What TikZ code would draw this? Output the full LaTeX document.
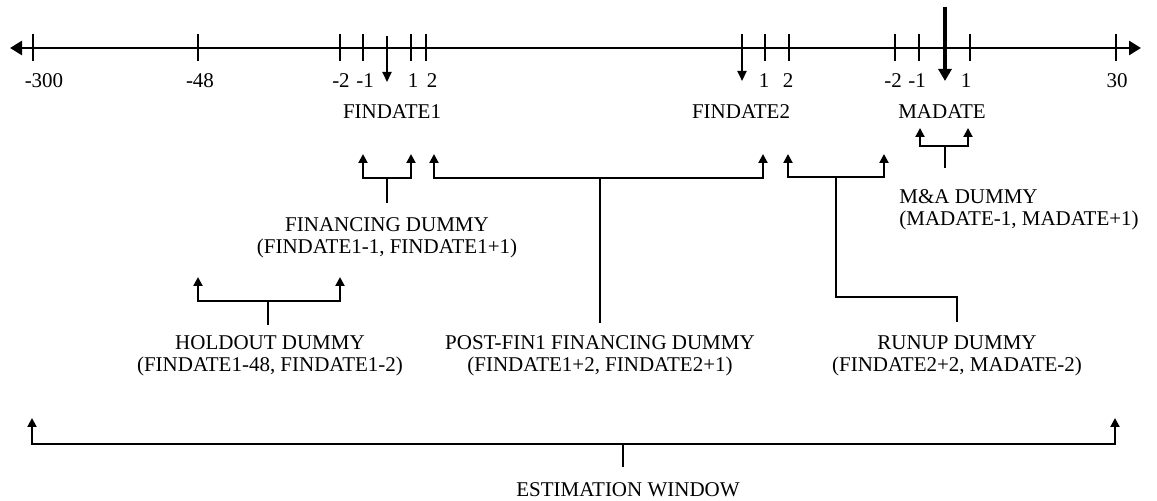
\documentclass[tikz,border=0pt]{standalone}
\usepackage{fontspec}
\setmainfont{Liberation Serif}
\usetikzlibrary{arrows.meta}
\begin{document}
\begin{tikzpicture}[x=0.5pt,y=-0.5pt,
  lbl/.style={font=\fontsize{10.5}{11}\selectfont, inner sep=0pt, align=center},
  num/.style={font=\fontsize{10.5}{11}\selectfont, inner sep=0pt, anchor=base},
  ticky/.style={line width=1pt},
  axisline/.style={line width=1.3pt, {Triangle[length=6pt,width=7pt]}-{Triangle[length=6pt,width=7pt]}},
  datearrow/.style={line width=1.1pt, -{Triangle[length=5pt,width=4.5pt]}},
  bigarrow/.style={line width=1.7pt, -{Triangle[length=6pt,width=6.5pt]}},
  brk/.style={line width=1pt},
  brkarrow/.style={line width=1pt, -{Triangle[length=4.5pt,width=4.5pt]}},
]
\useasboundingbox (0,0) rectangle (1157,501);

% axis
\coordinate (axL) at (10,48);
\coordinate (axR) at (1141,48);
\draw[axisline] (axL) -- (axR);

% ticks
\foreach \x in {33,198,340,363,411,426,765,789,895,919,970,1116}
  \draw[ticky] (\x,34) -- (\x,61);

% tick labels
\node[num] (n300) at (44,88) {-300};
\node[num] (n48) at (200,88) {-48};
\node[num] (na2) at (341,88) {-2};
\node[num] (na1) at (365,88) {-1};
\node[num] (nap1) at (413,88) {1};
\node[num] (nap2) at (432,88) {2};
\node[num] (nbp1) at (764,88) {1};
\node[num] (nbp2) at (788,88) {2};
\node[num] (nc2) at (893,88) {-2};
\node[num] (nc1) at (917,88) {-1};
\node[num] (ncp1) at (966,88) {1};
\node[num] (n30) at (1117,88) {30};

% date arrows
\coordinate (f1top) at (387,36);
\coordinate (f1tip) at (387,82);
\draw[datearrow] (f1top) -- (f1tip);
\coordinate (f2top) at (742,34);
\coordinate (f2tip) at (742,81);
\draw[datearrow] (f2top) -- (f2tip);
\coordinate (matop) at (945,7);
\coordinate (matip) at (945,81);
\draw[bigarrow] (matop) -- (matip);

% date labels
\node[num] (fd1) at (392,119) {FINDATE1};
\node[num] (fd2) at (741,119) {FINDATE2};
\node[num] (mad) at (942,119) {MADATE};

% financing dummy
\node[lbl, anchor=north] (fin) at (387,217) {FINANCING DUMMY\\(FINDATE1-1, FINDATE1+1)};
\coordinate (finS) at (387,203);
\coordinate (finJ) at (387,178);
\coordinate (finA) at (363,154);
\coordinate (finB) at (411,154);
\draw[brk] (finS) -- (finJ);
\draw[brkarrow] (finJ) -| (finA);
\draw[brkarrow] (finJ) -| (finB);

% post-fin1 financing dummy
\node[lbl, anchor=north] (post) at (600,335) {POST-FIN1 FINANCING DUMMY\\(FINDATE1+2, FINDATE2+1)};
\coordinate (postS) at (600,323);
\coordinate (postJ) at (600,178);
\coordinate (postA) at (434,154);
\coordinate (postB) at (763,154);
\draw[brk] (postS) -- (postJ);
\draw[brkarrow] (postJ) -| (postA);
\draw[brkarrow] (postJ) -| (postB);

% holdout dummy
\node[lbl, anchor=north] (hold) at (270,335) {HOLDOUT DUMMY\\(FINDATE1-48, FINDATE1-2)};
\coordinate (holdS) at (268,325);
\coordinate (holdJ) at (268,301);
\coordinate (holdA) at (198,277);
\coordinate (holdB) at (340,277);
\draw[brk] (holdS) -- (holdJ);
\draw[brkarrow] (holdJ) -| (holdA);
\draw[brkarrow] (holdJ) -| (holdB);

% runup dummy
\node[lbl, anchor=north] (run) at (957,335) {RUNUP DUMMY\\(FINDATE2+2, MADATE-2)};
\coordinate (runS) at (957,322);
\coordinate (runK) at (836,297);
\coordinate (runJ) at (836,177);
\coordinate (runA) at (788,154);
\coordinate (runB) at (884,154);
\draw[brk] (runS) |- (runK) -- (runJ);
\draw[brkarrow] (runJ) -| (runA);
\draw[brkarrow] (runJ) -| (runB);

% M&A dummy
\node[lbl, anchor=north west, align=left] (ma) at (899,189) {M\&A DUMMY\\(MADATE-1, MADATE+1)};
\coordinate (maS) at (945,168);
\coordinate (maJ) at (945,146);
\coordinate (maA) at (920,128);
\coordinate (maB) at (968,128);
\draw[brk] (maS) -- (maJ);
\draw[brkarrow] (maJ) -| (maA);
\draw[brkarrow] (maJ) -| (maB);

% estimation window
\node[lbl, anchor=north] (est) at (628,482) {ESTIMATION WINDOW};
\coordinate (estS) at (623,467);
\coordinate (estJ) at (623,444);
\coordinate (estA) at (32,418);
\coordinate (estB) at (1115,418);
\draw[brk] (estS) -- (estJ);
\draw[brkarrow] (estJ) -| (estA);
\draw[brkarrow] (estJ) -| (estB);
\end{tikzpicture}
\end{document}
